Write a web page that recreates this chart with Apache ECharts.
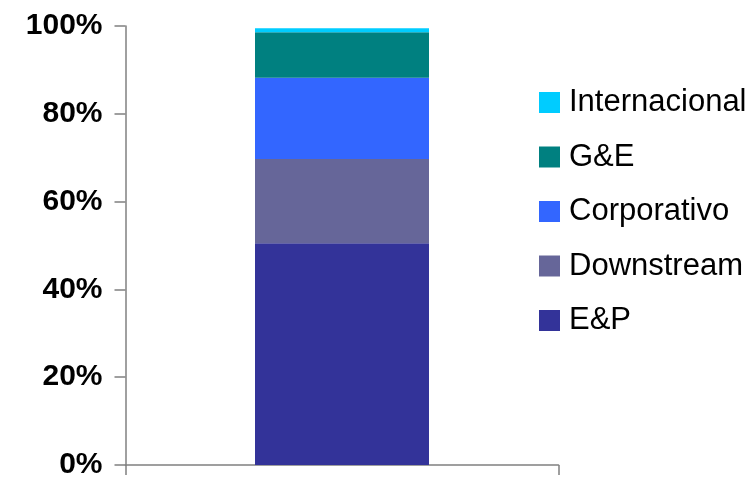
<!DOCTYPE html>
<html>
<head>
<meta charset="utf-8">
<script src="https://cdn.jsdelivr.net/npm/echarts@6/dist/echarts.min.js"></script>
<style>html,body{margin:0;padding:0;background:#fff}#c{width:752px;height:480px}</style>
</head>
<body>
<div id="c"></div>
<script>
var categories = [''];
var seriesNames = ['E&P', 'Downstream', 'Corporativo', 'G&E', 'Internacional'];
var epValues = [50.5];
var downstreamValues = [19.2];
var corporativoValues = [18.5];
var geValues = [10.4];
var internacionalValues = [0.9];
var legendOrder = ['Internacional', 'G&E', 'Corporativo', 'Downstream', 'E&P'];
var colors = ['#333399', '#666699', '#3366FF', '#008080', '#00CCFF'];

var valuesList = [epValues, downstreamValues, corporativoValues, geValues, internacionalValues];
var chart = echarts.init(document.getElementById('c'));
chart.setOption({
  animation: false,
  grid: {left: 125.5, right: 193.5, top: 26, bottom: 14},
  legend: {
    data: legendOrder,
    orient: 'vertical',
    left: 539,
    top: 87,
    padding: 0,
    itemWidth: 21,
    itemHeight: 21,
    itemGap: 23.5,
    icon: 'rect',
    textStyle: {fontFamily: 'Liberation Sans, Arial', fontSize: 31, color: '#000', padding: [0, 0, 0, 4]}
  },
  xAxis: {
    type: 'category',
    data: categories,
    axisLine: {lineStyle: {color: '#808080', width: 1.5}},
    axisTick: {show: true, length: 10, lineStyle: {color: '#808080', width: 1.5}},
    axisLabel: {show: false}
  },
  yAxis: {
    type: 'value',
    min: 0, max: 100, interval: 20,
    axisLine: {show: true, lineStyle: {color: '#808080', width: 1.5}},
    axisTick: {show: true, length: 11, lineStyle: {color: '#808080', width: 1.5}},
    splitLine: {show: false},
    axisLabel: {
      formatter: '{value}%', margin: 23,
      fontFamily: 'Liberation Sans, Arial', fontWeight: 'bold', fontSize: 30, color: '#000'
    }
  },
  series: seriesNames.map(function (n, i) {
    return {
      name: n, type: 'bar', stack: 'total', barWidth: 174,
      itemStyle: {color: colors[i]},
      data: valuesList[i]
    };
  })
});
</script>
</body>
</html>
